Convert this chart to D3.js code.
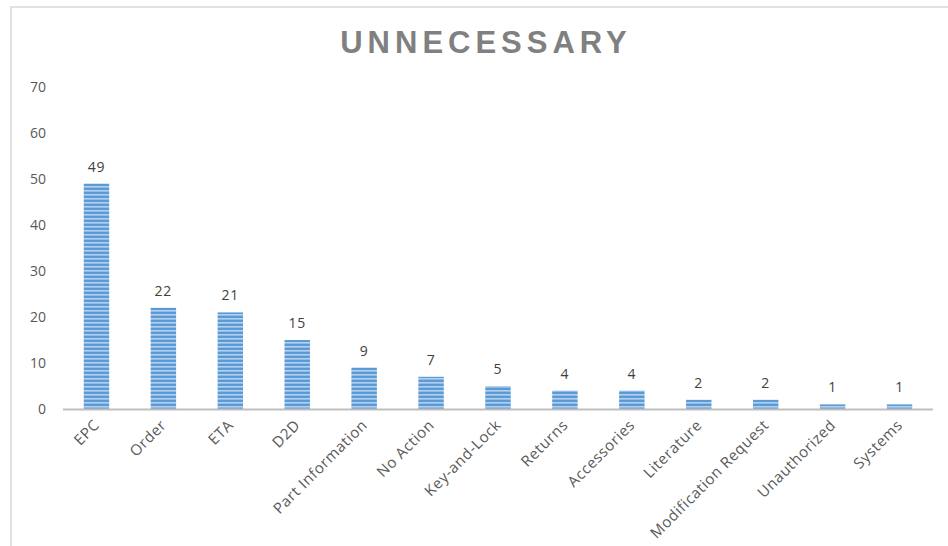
<!DOCTYPE html>
<html><head><meta charset="utf-8">
<script src="https://cdn.jsdelivr.net/npm/d3@7/dist/d3.min.js"></script>
<style>body{margin:0;background:#fff;}svg{display:block;}</style>
</head><body>
<svg id="c" width="948" height="546"></svg>
<script>
const categories = ["EPC","Order","ETA","D2D","Part Information","No Action","Key-and-Lock","Returns","Accessories","Literature","Modification Request","Unauthorized","Systems"];
const values = [49,22,21,15,9,7,5,4,4,2,2,1,1];
const yTicks = [0,10,20,30,40,50,60,70];
const title = "UNNECESSARY";

const FONT = "Open Sans, Liberation Sans, Arial, sans-serif";
const svg = d3.select("#c");
svg.append("rect").attr("x",11).attr("y",7).attr("width",960).attr("height",600)
  .attr("fill","none").attr("stroke","#d9d9d9").attr("stroke-width",1.5);

const defs = svg.append("defs");
const pat = defs.append("pattern").attr("id","stripes").attr("patternUnits","userSpaceOnUse")
  .attr("width",8).attr("height",4);
pat.append("rect").attr("width",8).attr("height",4).attr("fill","#5b9bd5");
pat.append("rect").attr("y",2).attr("width",8).attr("height",1.6).attr("fill","#b4d0ee");

const x = d3.scaleBand().domain(categories).range([63,933]).paddingInner(0.62).paddingOuter(0.31);
const y = d3.scaleLinear().domain([0,70]).range([409,87]);

svg.append("text").attr("x",486).attr("y",53).attr("text-anchor","middle")
  .attr("font-family","Liberation Sans, Arial, sans-serif").attr("font-weight","bold")
  .attr("font-size",31).attr("letter-spacing",5).attr("fill","#808080").text(title);

svg.append("g").selectAll("text").data(yTicks).join("text")
  .attr("x",46).attr("y",d=>y(d)).attr("dy","0.35em").attr("text-anchor","end")
  .attr("font-family",FONT).attr("font-size",14).attr("fill","#595959")
  .text(d=>d);

svg.append("g").selectAll("rect").data(values).join("rect")
  .attr("x",(d,i)=>x(categories[i])).attr("width",x.bandwidth())
  .attr("y",d=>y(d)).attr("height",d=>y(0)-y(d)).attr("fill","url(#stripes)");

svg.append("line").attr("x1",63).attr("x2",933).attr("y1",y(0)+0.5).attr("y2",y(0)+0.5)
  .attr("stroke","#bfbfbf").attr("stroke-width",2);

svg.append("g").selectAll("text").data(values).join("text")
  .attr("x",(d,i)=>x(categories[i])+x.bandwidth()/2).attr("y",d=>y(d)-12)
  .attr("text-anchor","middle").attr("font-family",FONT)
  .attr("font-size",14).attr("fill","#404040").attr("letter-spacing",0.8).text(d=>d);

svg.append("g").selectAll("text").data(categories).join("text")
  .attr("transform",d=>`translate(${x(d)+x.bandwidth()/2+4},${y(0)+17}) rotate(-45)`)
  .attr("text-anchor","end").attr("font-family",FONT).attr("letter-spacing",0.6)
  .attr("font-size",15).attr("fill","#595959").text(d=>d);
</script>
</body></html>
